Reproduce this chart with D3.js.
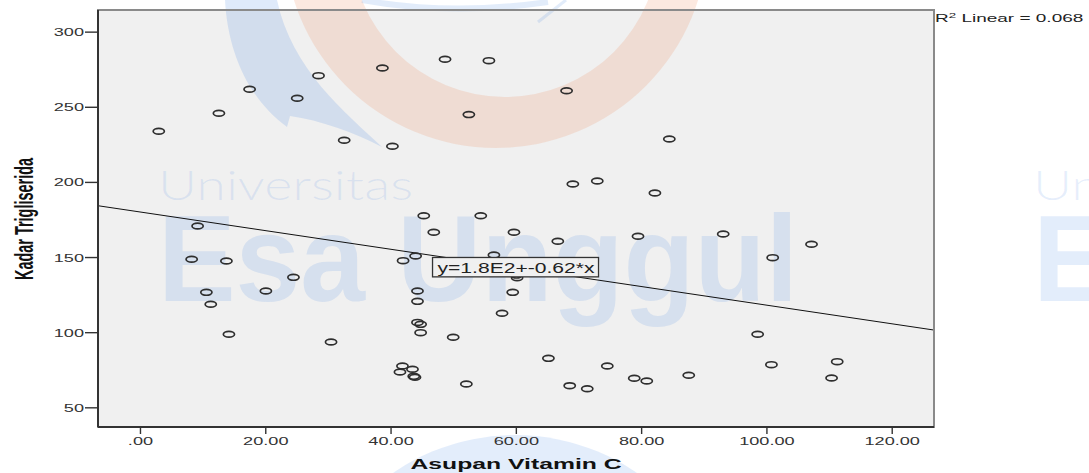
<!DOCTYPE html>
<html>
<head>
<meta charset="utf-8">
<script src="https://cdn.jsdelivr.net/npm/d3@7"></script>
<style>
	body { margin: 0; background: #fff; }
	#chart { font-family: "Liberation Sans", Arial, sans-serif; }
</style>
</head>
<body>
<div id="chart"></div>
<script>
// Data
var vitaminC = [3.0, 12.6, 17.5, 25.1, 28.5, 32.6, 9.2, 8.25, 13.8, 24.5,
                10.6, 20.1, 11.3, 14.2, 30.5, 38.7, 48.7, 55.7, 68.1, 52.5,
                40.3, 84.5, 69.1, 73.0, 82.2, 45.3, 54.4, 46.9, 59.7, 66.7,
                79.5, 44.0, 42.0, 56.5, 60.2, 60.1, 44.3, 44.3, 59.5, 57.8,
                44.3, 44.8, 44.8, 50.0, 65.2, 41.9, 43.5, 41.5, 43.7, 43.9,
                52.1, 68.6, 71.4, 74.6, 78.9, 80.9, 87.6, 93.1, 107.2, 101.0,
                98.6, 100.8, 111.3, 110.4];
var trigliserida = [233.7, 245.7, 261.7, 255.7, 270.7, 227.7, 170.7, 148.5, 147.4, 136.5,
                    126.5, 127.4, 118.6, 98.6, 93.5, 275.8, 281.6, 280.7, 260.7, 244.8,
                    223.7, 228.6, 198.6, 200.6, 192.6, 177.5, 177.5, 166.5, 166.5, 160.5,
                    163.8, 150.7, 147.6, 151.4, 136.3, 138.0, 127.4, 120.5, 126.5, 112.6,
                    106.5, 105.2, 99.7, 96.6, 82.6, 77.5, 75.3, 73.5, 70.6, 70.0,
                    65.5, 64.4, 62.4, 77.5, 69.3, 67.5, 71.3, 165.3, 158.5, 149.6,
                    98.6, 78.4, 80.4, 69.5];
var xTicks = [0, 20, 40, 60, 80, 100, 120];
var xTickLabels = [".00", "20.00", "40.00", "60.00", "80.00", "100.00", "120.00"];
var yTicks = [50, 100, 150, 200, 250, 300];
var fitIntercept = 180;
var fitSlope = -0.62;
var fitLabel = "y=1.8E2+-0.62*x";
var rSquared = "0.068";
var xTitle = "Asupan Vitamin C";
var yTitle = "Kadar Trigliserida";

/*#############################################################################
* ### Scatter plot with linear fit ############################################
* #############################################################################*/
function visScatter(options){
	var margin    = {top: 10, right: 155, bottom: 46, left: 98},
	    width     = options.width,
	    height    = options.height,
	    container = options.container,
	    stretch   = 1.65;   // the exported picture is stretched sideways

	var svg, x, y;
	var object = {};

	// watermark of the source page, drawn under the marks
	function watermark(g, dx){
		var blue = "#3a7de0";
		var w = g.append("g").attr("transform", "translate(" + dx + ",0)");

		w.append("path")
			.attr("fill-rule", "evenodd")
			.attr("d", "M284,-64a212,212 0 1,0 424,0a212,212 0 1,0 -424,0Z" +
			           "M351,-57a154,154 0 1,0 308,0a154,154 0 1,0 -308,0Z")
			.style("fill", "#ec7a45")
			.style("fill-opacity", 0.17);

		w.append("path")
			.attr("d", "M225,0 C228,55 250,100 287,127 L290,116 C320,120 355,133 382,147 C345,112 292,70 277,0 Z")
			.style("fill", blue)
			.style("fill-opacity", 0.16);

		w.append("path")
			.attr("d", "M362,0 Q450,16 548,2")
			.style("fill", "none")
			.style("stroke", blue)
			.style("stroke-opacity", 0.15)
			.style("stroke-width", 6);

		w.append("path")
			.attr("d", "M566,0 L538,22")
			.style("fill", "none")
			.style("stroke", blue)
			.style("stroke-opacity", 0.15)
			.style("stroke-width", 3);

		w.append("circle")
			.attr("cx", 515)
			.attr("cy", 650)
			.attr("r", 215)
			.style("fill", blue)
			.style("fill-opacity", 0.14);

		w.append("text")
			.attr("x", 158)
			.attr("y", 200)
			.attr("textLength", 255)
			.attr("lengthAdjust", "spacingAndGlyphs")
			.style("font", "300 42px Lato, 'Open Sans', sans-serif")
			.style("fill", blue)
			.style("fill-opacity", 0.12)
			.text("Universitas");

		w.append("text")
			.attr("x", 158)
			.attr("y", 301)
			.attr("textLength", 640)
			.attr("lengthAdjust", "spacingAndGlyphs")
			.style("font", "bold 122px 'Liberation Sans', Arial, sans-serif")
			.style("fill", blue)
			.style("fill-opacity", 0.14)
			.text("Esa Unggul");
	}

	object.render = function(){
		var innerW = width - margin.left - margin.right,
		    innerH = height - margin.top - margin.bottom;

		var data = vitaminC.map(function(v, i){ return {x: v, y: trigliserida[i]}; });

		svg = d3.select(container).append("svg")
			.attr("width", width)
			.attr("height", height);

		svg.append("rect")
			.attr("width", width)
			.attr("height", height)
			.style("fill", "#fff");

		x = d3.scaleLinear()
			.domain([-6.7, 126.75])
			.range([margin.left, margin.left + innerW]);

		y = d3.scaleLinear()
			.domain([36.9, 314.4])
			.range([margin.top + innerH, margin.top]);

		// plot background
		svg.append("rect")
			.attr("x", margin.left)
			.attr("y", margin.top)
			.attr("width", innerW)
			.attr("height", innerH)
			.style("fill", "#f0f0f0");

		var wm = svg.append("g").attr("class", "watermark");
		watermark(wm, 0);
		watermark(wm, 875);

		// fit line
		var fit = function(v){ return fitIntercept + fitSlope * v; };
		var line = d3.line()
			.x(function(d){ return x(d); })
			.y(function(d){ return y(fit(d)); });

		svg.append("path")
			.datum(x.domain())
			.attr("d", line)
			.style("fill", "none")
			.style("stroke", "#111")
			.style("stroke-width", "1px");

		// points
		svg.append("g")
			.attr("class", "points")
			.selectAll("ellipse")
			.data(data)
			.enter().append("ellipse")
			.attr("cx", function(d){ return x(d.x); })
			.attr("cy", function(d){ return y(d.y); })
			.attr("rx", 5.6)
			.attr("ry", 2.9)
			.style("fill", "none")
			.style("stroke", "#2e2e2e")
			.style("stroke-width", "1.7px");

		// fit label
		var lx = 46.7;
		var label = svg.append("g")
			.attr("transform", "translate(" + x(lx) + "," + (y(fit(lx)) + 2) + ")");

		label.append("rect")
			.attr("width", 166)
			.attr("height", 19.4)
			.style("fill", "#f0f0f0")
			.style("stroke", "#333")
			.style("stroke-width", "1.3px");

		label.append("text")
			.attr("x", 5)
			.attr("y", 15.2)
			.attr("textLength", 157)
			.attr("lengthAdjust", "spacingAndGlyphs")
			.style("font", "14px 'Liberation Sans', Arial, sans-serif")
			.style("fill", "#222")
			.text(fitLabel);

		// frame
		svg.append("rect")
			.attr("x", margin.left)
			.attr("y", margin.top)
			.attr("width", innerW)
			.attr("height", innerH)
			.style("fill", "none")
			.style("stroke", "#8a8a8a")
			.style("stroke-width", "2px");

		// axes
		var yAxis = d3.axisLeft(y)
			.tickValues(yTicks)
			.tickSize(13)
			.tickFormat(d3.format("d"));

		var gy = svg.append("g")
			.attr("class", "y axis")
			.attr("transform", "translate(" + margin.left + ",0)")
			.call(yAxis);

		var xAxis = d3.axisBottom(x)
			.tickValues(xTicks)
			.tickSize(7)
			.tickFormat(function(d){ return xTickLabels[xTicks.indexOf(d)]; });

		var gx = svg.append("g")
			.attr("class", "x axis")
			.attr("transform", "translate(0," + (margin.top + innerH) + ")")
			.call(xAxis);

		gy.select(".domain")
			.attr("d", "M0," + margin.top + "V" + (margin.top + innerH));
		gx.select(".domain")
			.attr("d", "M" + margin.left + ",0H" + (margin.left + innerW));

		svg.selectAll(".axis .domain")
			.style("stroke", "#333")
			.style("stroke-width", "2px");
		svg.selectAll(".axis .tick line")
			.style("stroke", "#333")
			.style("stroke-width", "1.4px");

		gy.selectAll("text")
			.attr("x", null)
			.attr("dy", null)
			.attr("transform", "translate(-14,4) scale(" + stretch + ",1)")
			.style("font", "11px 'Liberation Sans', Arial, sans-serif")
			.style("fill", "#333");

		gx.selectAll("text")
			.attr("y", null)
			.attr("dy", null)
			.attr("transform", "translate(0,17.5) scale(" + stretch + ",1)")
			.style("font", "11px 'Liberation Sans', Arial, sans-serif")
			.style("fill", "#333");

		// titles
		svg.append("text")
			.attr("transform", "translate(" + (margin.left + innerW / 2) + ",469) scale(" + stretch + ",1)")
			.attr("text-anchor", "middle")
			.style("font", "bold 15px 'Liberation Sans', Arial, sans-serif")
			.style("fill", "#111")
			.text(xTitle);

		svg.append("text")
			.attr("transform", "translate(32.5,219) rotate(-90) scale(1,2.05)")
			.attr("text-anchor", "middle")
			.attr("textLength", 122)
			.attr("lengthAdjust", "spacingAndGlyphs")
			.style("font", "bold 13px 'Liberation Sans', Arial, sans-serif")
			.style("fill", "#111")
			.text(yTitle);

		// R squared note
		var r2 = svg.append("text")
			.attr("transform", "translate(" + (margin.left + innerW + 1) + ",21.5) scale(1.9,1)")
			.style("font", "10px 'Liberation Sans', Arial, sans-serif")
			.style("fill", "#222");
		r2.append("tspan").text("R");
		r2.append("tspan")
			.attr("dy", -4)
			.style("font-size", "7px")
			.text("2");
		r2.append("tspan")
			.attr("dy", 4)
			.text(" Linear = " + rSquared);

		return object;
	};

	return object;
}

visScatter({container: "#chart", width: 1089, height: 473}).render();
</script>
</body>
</html>
